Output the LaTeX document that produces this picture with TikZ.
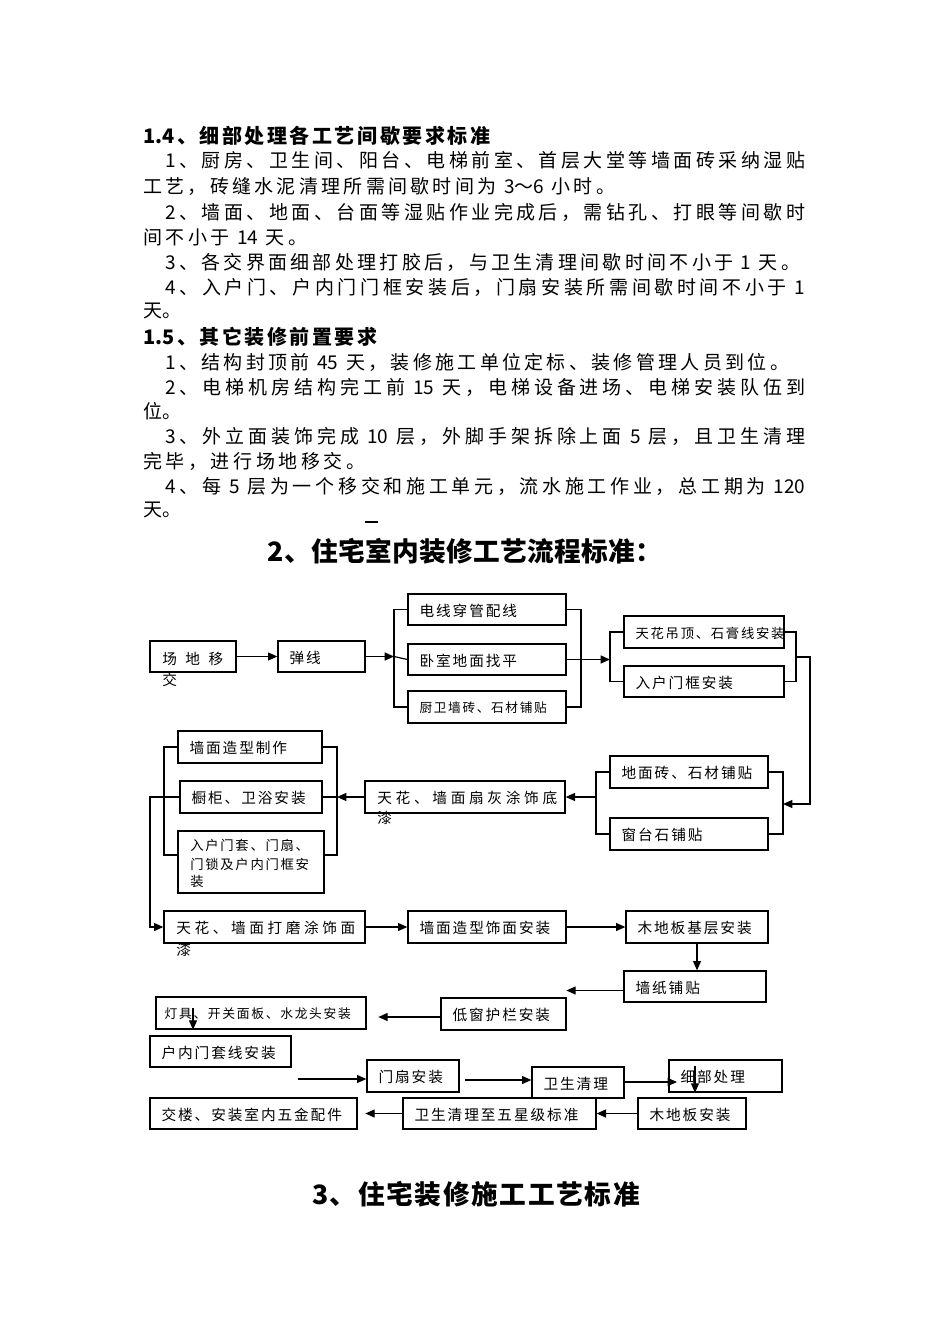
\documentclass[tikz,border=0pt]{standalone}
\usepackage{fontspec}
\setmainfont{Noto Sans CJK SC}
\newfontfamily\spc[LetterSpace=13]{Noto Sans CJK SC}
\usetikzlibrary{arrows.meta,fit,calc}
\newlength\pxu
\setlength\pxu{0.75pt}
\makeatletter
\def\sp@endmark{\sp@nil}
\def\sp@loop#1{\def\sp@tmp{#1}\ifx\sp@tmp\sp@endmark\else#1\hfill\expandafter\sp@loop\fi}
\newcommand\spreadto[2]{\hbox to #1{\sp@loop#2\sp@nil\unskip}}
\makeatother
\newcommand\bodyfont{\fontsize{14.25pt}{16pt}\selectfont}
\newcommand\bxe[5]{\node[bx, fit={(#2,#3)(#4,#5)}] (#1) {};}
\newcommand\bt[3]{\node[tx, font=\spc\fontsize{#2}{#2}\selectfont] (#1t) at ($(#1.west)+(12,1)$) {#3};}
\tikzset{
  bx/.style={draw, line width=1pt, inner sep=0pt, rectangle},
  tx/.style={anchor=west, inner sep=0pt},
  bl/.style={anchor=west, inner sep=0pt, font=\bodyfont},
  hd/.style={anchor=west, inner sep=0pt, font=\bfseries\fontsize{15pt}{15pt}\selectfont},
  hb/.style={inner sep=0pt, font=\bfseries\fontsize{20pt}{20pt}\selectfont},
  ln/.style={line width=0.9pt},
  arr/.style={line width=0.9pt, -{Triangle[length=7pt,width=6pt]}},
}
\begin{document}
\begin{tikzpicture}[x=0.75pt,y=-0.75pt]
\useasboundingbox (0,0) rectangle (950,1344);
\fill[white] (0,0) rectangle (950,1344);

% ---------- text section 1.4 ----------
\node[hd] (h14) at (143,136) {\spreadto{347\pxu}{{1.4}、细部处理各工艺间歇要求标准}};
\node[bl] (p1) at (165,160) {\spreadto{640\pxu}{1、厨房、卫生间、阳台、电梯前室、首层大堂等墙面砖采纳湿贴}};
\node[bl] (p2) at (143,187) {\spreadto{472\pxu}{工艺，砖缝水泥清理所需间歇时间为{ 3～6 }小时。}};
\node[bl] (p3) at (165,212) {\spreadto{640\pxu}{2、墙面、地面、台面等湿贴作业完成后，需钻孔、打眼等间歇时}};
\node[bl] (p4) at (143,237) {\spreadto{164\pxu}{间不小于{ 14 }天。}};
\node[bl] (p5) at (165,262) {\spreadto{635\pxu}{3、各交界面细部处理打胶后，与卫生清理间歇时间不小于{ 1 }天。}};
\node[bl] (p6) at (165,287) {\spreadto{640\pxu}{4、入户门、户内门门框安装后，门扇安装所需间歇时间不小于{ 1}}};
\node[bl] (p7) at (143,311) {天。};

% ---------- text section 1.5 ----------
\node[hd] (h15) at (143,337) {\spreadto{234\pxu}{{1.5}、其它装修前置要求}};
\node[bl] (q1) at (165,362) {\spreadto{624\pxu}{1、结构封顶前{ 45 }天，装修施工单位定标、装修管理人员到位。}};
\node[bl] (q2) at (165,387) {\spreadto{640\pxu}{2、电梯机房结构完工前{ 15 }天，电梯设备进场、电梯安装队伍到}};
\node[bl] (q3) at (143,411) {位。};
\node[bl] (q4) at (165,436) {\spreadto{640\pxu}{3、外立面装饰完成{ 10 }层，外脚手架拆除上面{ 5 }层，且卫生清理}};
\node[bl] (q5) at (143,461) {\spreadto{222\pxu}{完毕，进行场地移交。}};
\node[bl] (q6) at (165,486) {\spreadto{640\pxu}{4、每{ 5 }层为一个移交和施工单元，流水施工作业，总工期为{ 120}}};
\node[bl] (q7) at (143,510) {天。};
\draw[line width=0.8pt] (365,522) -- (378,522);

% ---------- headings ----------
\node[hb] (h2) at (465,551) {\spreadto{395\pxu}{2、住宅室内装修工艺流程标准：}};
\node[hb] (h3) at (476,1194) {\spreadto{328\pxu}{3、住宅装修施工工艺标准}};

% ---------- boxes ----------
\bxe{b1}{150}{641}{236}{672}
\bxe{b2}{278}{641}{365}{672}
\bxe{b3}{408}{594}{566}{625}
\bxe{b4}{408}{644}{566}{675}
\bxe{b5}{408}{691}{566}{723}
\bxe{b6}{624}{616}{784}{648}
\bxe{b7}{624}{666}{784}{697}
\bxe{b8}{610}{756}{768}{788}
\bxe{b9}{610}{818}{768}{850}
\bxe{b10}{365}{781}{565}{813}
\bxe{b11}{178}{731}{322}{763}
\bxe{b12}{180}{781}{322}{813}
\bxe{b13}{178}{831}{324}{893}
\bxe{b14}{164}{911}{365}{943}
\bxe{b15}{408}{911}{566}{943}
\bxe{b16}{626}{911}{768}{943}
\bxe{b17}{624}{971}{766}{1002}
\bxe{b18}{441}{998}{566}{1030}
\bxe{b19}{156}{997}{366}{1029}
\bxe{b20}{150}{1036}{291}{1067}
\bxe{b21}{367}{1060}{459}{1092}
\bxe{b22}{532}{1067}{624}{1098}
\bxe{b23}{669}{1060}{782}{1092}
\bxe{b24}{638}{1098}{746}{1129}
\bxe{b25}{403}{1098}{596}{1129}
\bxe{b26}{150}{1098}{357}{1129}

% ---------- box texts ----------
\node[tx, font=\spc\fontsize{11pt}{11pt}\selectfont] (b1t) at (162,659) {\spreadto{61\pxu}{场地移}};
\node[tx, font=\spc\fontsize{11pt}{11pt}\selectfont] (b1u) at (162,680) {交};
\bt{b2}{11pt}{弹线}
\bt{b3}{11pt}{电线穿管配线}
\bt{b4}{11pt}{卧室地面找平}
\bt{b5}{9.5pt}{厨卫墙砖、石材铺贴}
\bt{b6}{10pt}{天花吊顶、石膏线安装}
\bt{b7}{11pt}{入户门框安装}
\bt{b8}{11pt}{地面砖、石材铺贴}
\bt{b9}{11pt}{窗台石铺贴}
\node[tx, font=\spc\fontsize{11pt}{11pt}\selectfont] (b10t) at (377,798) {\spreadto{180\pxu}{天花、墙面扇灰涂饰底}};
\node[tx, font=\spc\fontsize{11pt}{11pt}\selectfont] (b10u) at (377,818) {漆};
\bt{b11}{11pt}{墙面造型制作}
\bt{b12}{11pt}{橱柜、卫浴安装}
\node[tx, font=\spc\fontsize{10pt}{10pt}\selectfont] (b13t) at (190,845) {入户门套、门扇、};
\node[tx, font=\spc\fontsize{10pt}{10pt}\selectfont] (b13u) at (190,864) {门锁及户内门框安};
\node[tx, font=\spc\fontsize{10pt}{10pt}\selectfont] (b13v) at (190,881) {装};
\node[tx, font=\spc\fontsize{11pt}{11pt}\selectfont] (b14t) at (176,928) {\spreadto{179\pxu}{天花、墙面打磨涂饰面}};
\node[tx, font=\spc\fontsize{11pt}{11pt}\selectfont] (b14u) at (176,950) {漆};
\bt{b15}{11pt}{墙面造型饰面安装}
\bt{b16}{11pt}{木地板基层安装}
\bt{b17}{11pt}{墙纸铺贴}
\bt{b18}{11pt}{低窗护栏安装}
\node[tx, font=\spc\fontsize{9.6pt}{9.6pt}\selectfont] (b19t) at ($(b19.west)+(9,1)$) {灯具、开关面板、水龙头安装};
\bt{b20}{11pt}{户内门套线安装}
\bt{b21}{11pt}{门扇安装}
\bt{b22}{11pt}{卫生清理}
\bt{b23}{11pt}{细部处理}
\bt{b24}{11pt}{木地板安装}
\bt{b25}{11pt}{卫生清理至五星级标准}
\bt{b26}{11pt}{交楼、安装室内五金配件}

% ---------- junction coordinates ----------
\coordinate (j1) at (394,0);
\coordinate (j2) at (581,0);
\coordinate (j3) at (610,0);
\coordinate (j4) at (796,0);
\coordinate (j7) at (596,0);
\coordinate (j8) at (337,0);
\coordinate (j9) at (164,0);
\coordinate (j10) at (150,0);
\coordinate (m1) at (796,657);
\coordinate (m2) at (810,804);
\coordinate (m3) at (783,804);
\coordinate (b13r) at ($(b13.east)+(0,-7)$);
\coordinate (b13l) at ($(b13.west)+(0,-7)$);

% ---------- connectors ----------
\draw[arr] (b1.east) -- (b2.west);
\draw[arr] (b2.east) -- (b2.east -| j1);
\draw[ln] (b2.east -| j1) -- (b4.west);
\draw[ln] (b3.west) -| (j1 |- b5.west) -- (b5.west);
\draw[ln] (b3.east) -| (j2 |- b5.east) -- (b5.east);
\draw[arr] (b4.east) -- (b4.east -| j3);
\draw[ln] (b6.west) -| (j3 |- b7.west) -- (b7.west);
\draw[ln] (b6.east) -| (j4 |- b7.east) -- (b7.east);
\draw[arr] (m1) -| (m2) -- (m3);
\draw[ln] (b8.east) -| (m3 |- b9.east) -- (b9.east);
\draw[ln] (b8.west) -| (j7 |- b9.west) -- (b9.west);
\draw[arr] (j7 |- b10.east) -- (b10.east);
\draw[ln] (b11.east) -| (j8 |- b13r) -- (b13r);
\draw[arr] (b10.west) -- (b10.west -| j8);
\draw[ln] (b10.west -| j8) -- (b12.east);
\draw[ln] (b11.west) -| (j9 |- b13l) -- (b13l);
\draw[arr] (b12.west) -| (j10 |- b14.west) -- (b14.west);
\draw[arr] (b14.east) -- (b15.west);
\draw[arr] (b15.east) -- (b16.west);
\draw[arr] (b16.south) -- (b16.south |- b17.north);
\draw[arr] ($(b17.west)+(0,4)$) -- ++(-57,0);
\draw[arr] ($(b18.west)+(0,3)$) -- ++(-62,0);
\coordinate (d1) at (193,1008);
\draw[arr] (d1) -- (d1 |- b19.south);
\coordinate (f1) at (298,1079);
\draw[arr] (f1) -- (f1 -| b21.west);
\coordinate (f2) at (465,1080);
\draw[arr] (f2) -- (f2 -| b22.west);
\coordinate (f3) at (624,1082);
\draw[arr] (f3) -- ++(53,0);
\coordinate (f5) at (695,1066);
\draw[arr] (f5) -- (f5 |- b23.south);
\draw[arr] (b24.west) -- (b25.east);
\draw[arr] (b25.west) -- ++(-37,0);
\end{tikzpicture}
\end{document}
